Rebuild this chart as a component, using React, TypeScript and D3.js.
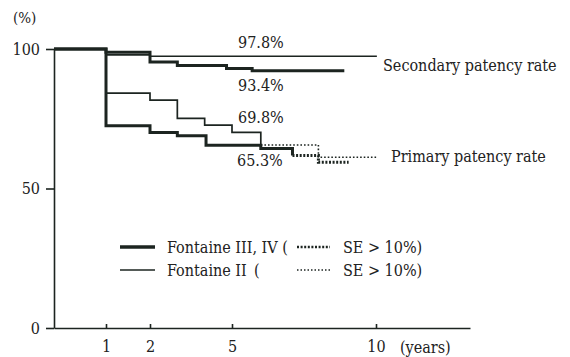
import React, { useEffect, useRef } from 'react';
import * as d3 from 'd3';

// time in years, patency in %
const xTicks = [1, 2, 5, 10];
const yTicks = [0, 50, 100];

const secThinT = [0, 1, 2, 10.03];
const secThinV = [100, 97.9, 97.4, 97.4];
const secThickT = [0, 1, 2, 3, 4.8, 5.7, 8.9];
const secThickV = [100, 98.8, 95.3, 94.1, 93.0, 92.2, 92.2];

const priThinT = [0, 1, 2, 3, 4, 5, 6];
const priThinV = [100, 84.2, 81.7, 75.1, 72.7, 70.1, 65.6];
const priThinSeT = [6, 8, 10.03];
const priThinSeV = [65.6, 61.2, 61.2];

const priThickT = [0, 1, 2, 3, 4.05, 6, 7.1];
const priThickV = [100, 72.5, 70.1, 68.9, 65.5, 64.3, 61.8];
const priThickSeT = [7.1, 8, 9.05];
const priThickSeV = [61.8, 59.4, 59.4];

const rateLabels = ['97.8%', '93.4%', '69.8%', '65.3%'];
const legendNames = ['Fontaine III, IV (', 'Fontaine  II'];

const FONT = "'DejaVu Serif Condensed', 'DejaVu Serif', serif";

function Chart() {
  const ref = useRef<SVGSVGElement>(null);

  useEffect(() => {
    const svg = d3.select(ref.current);
    svg.selectAll('*').remove();

    const ink = '#1c2420';

    // the original axis is not evenly spaced, so piecewise
    const x = d3.scaleLinear().domain([0, 1, 2, 5, 10, 13.25]).range([54, 106, 150, 232, 376, 470]);
    const y = d3.scaleLinear().domain([0, 100]).range([328, 49]);

    const g = svg.append('g');

    // axes
    const xAxis = g.append('g')
      .attr('transform', `translate(0,${y(0)})`)
      .call(d3.axisBottom(x).tickValues(xTicks).tickSizeInner(-4).tickSizeOuter(0).tickPadding(13).tickFormat(d3.format('d')));
    const yAxis = g.append('g')
      .attr('transform', `translate(${x(0)},0)`)
      .call(d3.axisLeft(y).tickValues(yTicks).tickSizeInner(8).tickSizeOuter(0).tickPadding(6));
    [xAxis, yAxis].forEach(a => {
      a.attr('font-family', null).attr('font-size', null);
      a.selectAll('path, line').attr('stroke', ink).attr('stroke-width', 1.6);
      a.selectAll('text').attr('fill', '#222').style('font-size', '16px');
    });

    g.append('text').attr('x', 13).attr('y', 23).style('font-size', '15px').attr('fill', '#222').text('(%)');
    g.append('text').attr('x', 400).attr('y', 353).style('font-size', '16px').attr('fill', '#222').text('(years)');

    const line = d3.line<[number, number]>()
      .x(d => x(d[0]))
      .y(d => y(d[1]))
      .curve(d3.curveStepAfter);
    const pts = (t: number[], v: number[]) => t.map((d, i) => [d, v[i]] as [number, number]);

    const draw = (t: number[], v: number[], w: number, dash?: string) => {
      g.append('path')
        .attr('d', line(pts(t, v)))
        .attr('fill', 'none')
        .attr('stroke', ink)
        .attr('stroke-width', w)
        .attr('stroke-dasharray', dash || null);
    };

    draw(priThinSeT, priThinSeV, 1.6, '1.6,2');
    draw(priThickSeT, priThickSeV, 3, '2,1.6');
    draw(secThinT, secThinV, 1.7);
    draw(priThinT, priThinV, 1.7);
    draw(secThickT, secThickV, 3);
    draw(priThickT, priThickV, 3);

    // value annotations
    const labelPos = [[238, 48], [238, 91], [238, 123], [237, 166]];
    rateLabels.forEach((s, i) => {
      g.append('text').attr('x', labelPos[i][0]).attr('y', labelPos[i][1])
        .style('font-size', '16px').attr('fill', '#222').text(s);
    });

    g.append('text').attr('x', 383).attr('y', 71).style('font-size', '16px').attr('fill', '#222').text('Secondary patency rate');
    g.append('text').attr('x', 391).attr('y', 162).style('font-size', '16px').attr('fill', '#222').text('Primary patency rate');

    // legend
    const rows = [{ y: 247, w: 3.4, dw: 2.6, dash: '2,1.6' }, { y: 270, w: 1.7, dw: 1.4, dash: '1.5,2' }];
    rows.forEach((r, i) => {
      g.append('line').attr('x1', 120).attr('x2', 155).attr('y1', r.y).attr('y2', r.y)
        .attr('stroke', ink).attr('stroke-width', r.w);
      g.append('text').attr('x', 167).attr('y', r.y + 5.5).style('font-size', '16px').attr('fill', '#222')
        .text(legendNames[i]);
      if (i === 1) {
        g.append('text').attr('x', 254).attr('y', r.y + 5.5).style('font-size', '16px').attr('fill', '#222').text('(');
      }
      g.append('line').attr('x1', 297).attr('x2', 330).attr('y1', r.y).attr('y2', r.y)
        .attr('stroke', ink).attr('stroke-width', r.dw).attr('stroke-dasharray', r.dash);
      g.append('text').attr('x', 343).attr('y', r.y + 5.5).style('font-size', '16px').attr('fill', '#222')
        .text('SE > 10%)');
    });

    svg.selectAll('text').style('font-family', FONT);
  }, []);

  return <svg ref={ref} width={570} height={357} style={{ position: 'absolute', left: 0, top: 0, background: '#fff', fontFamily: FONT }} />;
}

export default function App() {
  return <Chart />;
}
